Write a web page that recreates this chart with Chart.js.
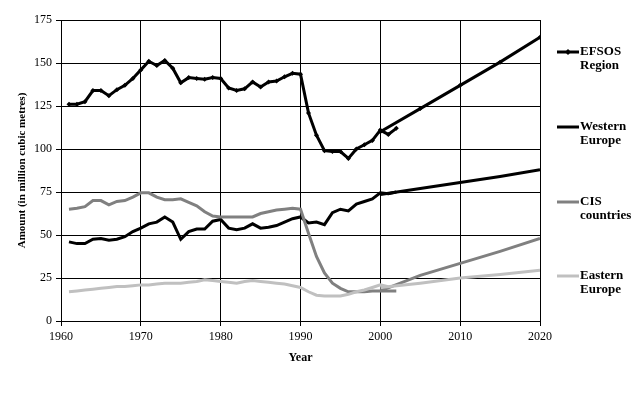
<!DOCTYPE html>
<html>
<head>
<meta charset="utf-8">
<script src="https://cdn.jsdelivr.net/npm/chart.js@4"></script>
<style>
  html, body { margin: 0; padding: 0; background: #fff; }
  #wrap { width: 642px; height: 394px; }
</style>
</head>
<body>
<div id="wrap"><canvas id="woodChart"></canvas></div>
<script>
// historical years 1961-2002
const histYears = [
  1961, 1962, 1963, 1964, 1965, 1966, 1967, 1968, 1969, 1970,
  1971, 1972, 1973, 1974, 1975, 1976, 1977, 1978, 1979, 1980,
  1981, 1982, 1983, 1984, 1985, 1986, 1987, 1988, 1989, 1990,
  1991, 1992, 1993, 1994, 1995, 1996, 1997, 1998, 1999, 2000,
  2001, 2002
]
const projYears = [2000, 2005, 2010, 2015, 2020]

const efsosHist = [
  126, 126, 127.5, 134, 134, 131, 134.5, 137, 141, 146,
  151, 148.5, 151.5, 147, 138.5, 141.5, 141, 140.5, 141.5, 141,
  135.5, 134, 135, 139, 136, 139, 139.5, 142, 144, 143.5,
  121, 108, 99, 98.5, 98.5, 94.5, 100, 102.5, 105, 111,
  108.5, 112
]
const efsosProj = [110, 123.5, 137, 150.5, 165]

const westHist = [
  46, 45, 45, 47.5, 48, 47, 47.5, 49, 52, 54,
  56.5, 57.5, 60.5, 57.5, 47.5, 52, 53.5, 53.5, 58, 59,
  54, 53, 54, 56.5, 54, 54.5, 55.5, 57.5, 59.5, 60.5,
  57, 57.5, 56, 63, 65, 64, 68, 69.5, 71, 74.5,
  74, 75
]
const westProj = [73.5, 77, 80.5, 84, 88]

const cisHist = [
  65, 65.5, 66.5, 70, 70, 67.5, 69.5, 70, 72, 74.5,
  74.5, 72, 70.5, 70.5, 71, 69, 67, 63.5, 61, 60.5,
  60.5, 60.5, 60.5, 60.5, 62.5, 63.5, 64.5, 65, 65.5, 65,
  51, 37.5, 28, 22, 19, 17, 17, 17, 17.5, 17.5,
  17.5, 17.5
]
const cisProj = [17.5, 26.5, 33.5, 40.5, 48]

const eastHist = [
  17, 17.5, 18, 18.5, 19, 19.5, 20, 20, 20.5, 21,
  21, 21.5, 22, 22, 22, 22.5, 23, 24, 23.5, 23,
  22.5, 22, 23, 23.5, 23, 22.5, 22, 21.5, 20.5, 19.5,
  17, 15, 14.5, 14.5, 14.5, 15.5, 17, 18, 19.5, 21,
  20
]
const eastProj = [19.5, 22, 25, 27, 29.5]

const yTicks = [0, 25, 50, 75, 100, 125, 150, 175]
const xTicks = [1960, 1970, 1980, 1990, 2000, 2010, 2020]

const legendNames = [
  ['EFSOS', 'Region'],
  ['Western', 'Europe'],
  ['CIS', 'countries'],
  ['Eastern', 'Europe']
]
const legendColors = ['#000000', '#000000', '#808080', '#c0c0c0']
const legendY = [52, 127, 202, 276]

function pts(xs, ys) {
  return ys.map((v, i) => ({ x: xs[i], y: v }))
}

function line(data, color, markers) {
  return {
    data: data,
    borderColor: color,
    backgroundColor: color,
    borderWidth: 3,
    pointRadius: markers ? 2.5 : 0,
    pointStyle: 'rectRot',
    pointBorderWidth: 0,
    tension: 0,
    fill: false
  }
}

// legenda desenhada a mao (texto em duas linhas)
const sideLegend = {
  id: 'sideLegend',
  afterDraw(chart) {
    const c = chart.ctx
    c.save()
    c.font = 'bold 13px "Liberation Serif"'
    c.textBaseline = 'middle'
    c.fillStyle = '#000'
    legendNames.forEach((name, i) => {
      const y = legendY[i]
      c.strokeStyle = legendColors[i]
      c.lineWidth = 3
      c.beginPath()
      c.moveTo(557, y)
      c.lineTo(579, y)
      c.stroke()
      if (i === 0) {
        c.fillStyle = '#000'
        c.beginPath()
        c.moveTo(568, y - 3)
        c.lineTo(571, y)
        c.lineTo(568, y + 3)
        c.lineTo(565, y)
        c.fill()
      }
      c.fillStyle = '#000'
      c.fillText(name[0], 580, y)
      c.fillText(name[1], 580, y + 14)
    })
    c.restore()
  }
}

const serif = { family: '"Liberation Serif", "Times New Roman", serif' }

new Chart(document.getElementById('woodChart'), {
  type: 'line',
  data: {
    datasets: [
      line(pts(histYears, eastHist), '#c0c0c0', false),
      line(pts(projYears, eastProj), '#c0c0c0', false),
      line(pts(histYears, cisHist), '#808080', false),
      line(pts(projYears, cisProj), '#808080', false),
      line(pts(histYears, westHist), '#000000', false),
      line(pts(projYears, westProj), '#000000', false),
      line(pts(histYears, efsosHist), '#000000', true),
      line(pts(projYears, efsosProj), '#000000', true)
    ]
  },
  options: {
    responsive: true,
    maintainAspectRatio: false,
    animation: false,
    layout: { padding: { top: 20, right: 102, bottom: 0, left: 0 } },
    plugins: {
      legend: { display: false },
      tooltip: { enabled: false }
    },
    scales: {
      x: {
        type: 'linear',
        min: 1960,
        max: 2020,
        afterBuildTicks: s => { s.ticks = xTicks.map(v => ({ value: v })) },
        afterFit: s => { s.height = 73 },
        ticks: {
          color: '#000',
          font: { ...serif, size: 12 },
          padding: 4,
          maxRotation: 0,
          callback: v => String(v)
        },
        grid: { color: '#000', lineWidth: 1, tickLength: 5 },
        border: { color: '#000', width: 1 },
        title: {
          display: true,
          text: 'Year',
          color: '#000',
          font: { ...serif, size: 12, weight: 'bold' },
          padding: { top: 0, bottom: 29 }
        }
      },
      y: {
        min: 0,
        max: 175,
        afterBuildTicks: s => { s.ticks = yTicks.map(v => ({ value: v })) },
        afterFit: s => { s.width = 61 },
        ticks: {
          color: '#000',
          font: { ...serif, size: 12 },
          padding: 4,
          callback: v => String(v)
        },
        grid: { color: '#000', lineWidth: 1, tickLength: 5 },
        border: { color: '#000', width: 1 },
        title: {
          display: true,
          text: 'Amount (in million cubic metres)',
          color: '#000',
          font: { ...serif, size: 11, weight: 'bold' },
          padding: { top: 16, bottom: 0 }
        }
      }
    }
  },
  plugins: [sideLegend]
})
</script>
</body>
</html>
